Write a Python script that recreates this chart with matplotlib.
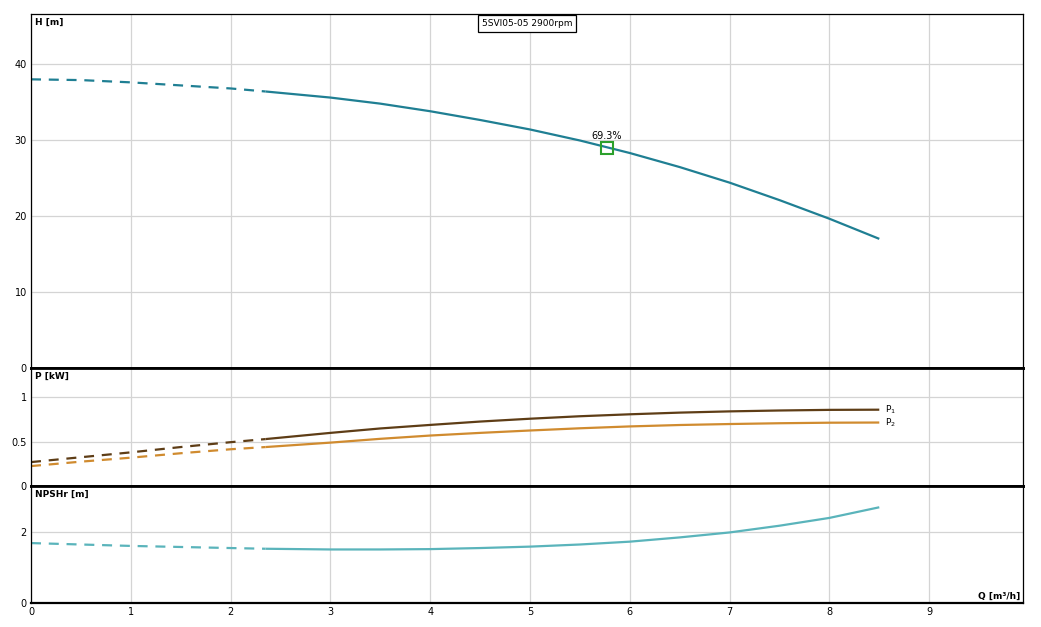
import matplotlib
matplotlib.use("Agg")
import matplotlib.pyplot as plt
import numpy as np

plt.rcParams['font.family'] = ['DejaVu Sans']

# ---- data ----
q = [0, 0.5, 1, 1.5, 2, 2.35, 3, 3.5, 4, 4.5, 5, 5.5, 6, 6.5, 7, 7.5, 8, 8.5]
head = [38.0, 37.9, 37.6, 37.2, 36.8, 36.4, 35.6, 34.8, 33.8, 32.65, 31.4, 29.95,
        28.3, 26.45, 24.4, 22.1, 19.65, 17.0]
p1 = [0.27, 0.325, 0.38, 0.44, 0.495, 0.53, 0.60, 0.65, 0.69, 0.728, 0.76, 0.788,
      0.81, 0.829, 0.843, 0.853, 0.86, 0.862]
p2 = [0.225, 0.275, 0.32, 0.37, 0.415, 0.44, 0.49, 0.533, 0.57, 0.60, 0.627, 0.652,
      0.673, 0.689, 0.70, 0.709, 0.715, 0.717]
npsh = [1.69, 1.65, 1.61, 1.58, 1.55, 1.53, 1.51, 1.51, 1.52, 1.55, 1.59, 1.65,
        1.73, 1.85, 1.99, 2.18, 2.40, 2.70]
q_split = 2.35
bep_q, bep_h, bep_label = 5.77, 28.9, "69.3%"
title = "5SVI05-05 2900rpm"

x_ticks = list(range(0, 10))
h_ticks = [0, 10, 20, 30, 40]
p_ticks = [0, 0.5, 1]
p_tick_labels = ["0", "0.5", "1"]
n_ticks = [0, 2]

c_h = "#1f7f93"
c_p1 = "#5e3d16"
c_p2 = "#d08b2f"
c_n = "#5ab4bb"
grid_c = "#d4d4d4"

W, H = 1041, 627
fig = plt.figure(figsize=(W / 100, H / 100), dpi=100)

def fx(px):
    return px / W

def fy(py):
    return 1 - py / H

left, right = 31, 1023
axH = fig.add_axes([fx(left), fy(368), fx(right - left), (368 - 14) / H])
axP = fig.add_axes([fx(left), fy(486), fx(right - left), (486 - 368) / H])
axN = fig.add_axes([fx(left), fy(603), fx(right - left), (603 - 486) / H])

q = np.array(q)
i_split = int(np.where(q == q_split)[0][0])

def draw(ax, y, color):
    y = np.array(y)
    ax.plot(q[:i_split + 1], y[:i_split + 1], color=color, lw=1.6,
            dashes=(4.5, 3.5), solid_capstyle='butt', dash_capstyle='butt')
    ax.plot(q[i_split:], y[i_split:], color=color, lw=1.6, solid_capstyle='butt',
            solid_joinstyle='round')

draw(axH, head, c_h)
draw(axP, p1, c_p1)
draw(axP, p2, c_p2)
draw(axN, npsh, c_n)

axH.plot([bep_q], [bep_h], marker='s', ms=8, mfc='none', mec='#2ca02c', mew=1.5)
axH.text(bep_q, bep_h + 1.0, bep_label, ha='center', va='bottom', fontsize=7)

axP.text(8.56, p1[-1], "P$_1$", fontsize=6.5, va='center', ha='left')
axP.text(8.56, p2[-1], "P$_2$", fontsize=6.5, va='center', ha='left')

xmax = 9.94
for ax in (axH, axP, axN):
    ax.set_xlim(0, xmax)
    ax.set_xticks(x_ticks)
    ax.grid(True, color=grid_c, lw=0.9)
    ax.set_axisbelow(True)
    ax.tick_params(length=0, labelsize=7, pad=3)
    for s in ax.spines.values():
        s.set_linewidth(0.9)
        s.set_color('black')

axH.set_ylim(0, 46.6)
axH.set_yticks(h_ticks)
axP.set_ylim(0, 1.333)
axP.set_yticks(p_ticks)
axP.set_yticklabels(p_tick_labels)
axN.set_ylim(0, 3.3)
axN.set_yticks(n_ticks)

axH.tick_params(labelbottom=False)
axP.tick_params(labelbottom=False)
axH.spines['bottom'].set_linewidth(2.0)
axP.spines['bottom'].set_linewidth(2.0)
axP.spines['top'].set_linewidth(2.0)
axN.spines['top'].set_linewidth(2.0)
axN.spines['bottom'].set_linewidth(1.6)

axH.text(0.004, 0.99, "H [m]", transform=axH.transAxes, fontsize=6.5,
         fontweight='bold', va='top', ha='left')
axP.text(0.004, 0.97, "P [kW]", transform=axP.transAxes, fontsize=6.5,
         fontweight='bold', va='top', ha='left')
axN.text(0.004, 0.97, "NPSHr [m]", transform=axN.transAxes, fontsize=6.5,
         fontweight='bold', va='top', ha='left')
axN.text(0.997, 0.02, "Q [m³/h]", transform=axN.transAxes, fontsize=6.5,
         fontweight='bold', va='bottom', ha='right')

fig.text(fx(527), fy(23.5), title, fontsize=6.5, ha='center', va='center',
         bbox=dict(boxstyle='square,pad=0.45', fc='white', ec='black', lw=0.9))

fig.savefig("out.png", dpi=100)
